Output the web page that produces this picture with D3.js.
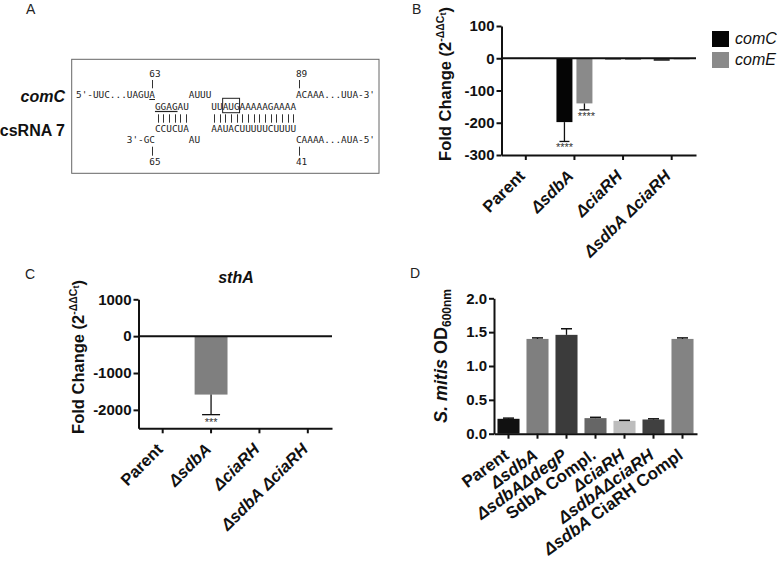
<!DOCTYPE html>
<html><head><meta charset="utf-8">
<script src="https://cdn.jsdelivr.net/npm/d3@7"></script>
<style>
body{margin:0;background:#fff;}
svg text{font-family:"Liberation Sans",Arial,sans-serif;}
.mono{font-family:"DejaVu Sans Mono",monospace;font-size:9.4px;fill:#222;}
</style></head>
<body><svg id="fig" width="777" height="569"></svg>
<script>
// ---------- DATA ----------
const catsBC = ["Parent", "ΔsdbA", "ΔciaRH", "ΔsdbA ΔciaRH"];
const seriesB = ["comC", "comE"];
const comC = [1, -198, -4, -8];
const comCErr = [0, 60, 1, 1];
const comE = [1, -140, -4, -3];
const comEErr = [0, 20, 1, 1];
const sthA = [0, -1585, 0, 0];
const sthAErr = [0, 545, 0, 0];
const catsD = ["Parent", "ΔsdbA", "ΔsdbAΔdegP", "SdbA Compl.", "ΔciaRH", "ΔsdbAΔciaRH", "ΔsdbA CiaRH Compl"];
const od600 = [0.22, 1.40, 1.46, 0.23, 0.19, 0.21, 1.40];
const od600Err = [0.01, 0.015, 0.09, 0.012, 0.007, 0.01, 0.015];
const ticksB = [100, 0, -100, -200, -300];
const ticksC = [1000, 0, -1000, -2000];
const ticksD = [0, 0.5, 1.0, 1.5, 2.0];
// Panel A sequence text
const seqTop = ["63", "89"];
const seqBottom = ["65", "41"];
const seqRow1 = ["5'-UUC...UAGUA", "AUUU", "ACAAA...UUA-3'"];
const seqRow2 = ["GGAGAU", "UUAUGAAAAAGAAAA"];
const seqPairs = ["||||||", "|||||||||||||||"];
const seqRow3 = ["CCUCUA", "AAUACUUUUUCUUUU"];
const seqRow4 = ["3'-GC", "AU", "CAAAA...AUA-5'"];

const colD = ["#111111", "#7f7f7f", "#3b3b3b", "#666666", "#bdbdbd", "#404040", "#838383"];
const colB = {comC: "#050505", comE: "#8a8a8a"};

const svg = d3.select("#fig");

function richLabel(sel, label) {
  const parts = label.split(/(Δ[a-z]+[A-Z]*)/).filter(s => s.length);
  parts.forEach(p => {
    const isGene = /^Δ[a-z]/.test(p);
    sel.append("tspan").text(p).attr("font-style", isGene ? "italic" : "normal");
  });
}
function xLabels(g, scale, labels, axisY, angle, dx, dy, fs) {
  labels.forEach(l => {
    const t = g.append("text")
      .attr("transform", `translate(${scale(l) + scale.bandwidth() / 2 + dx},${axisY + dy}) rotate(${-angle})`)
      .attr("text-anchor", "end").attr("dy", "0.35em")
      .attr("font-size", fs).attr("font-weight", "bold").attr("fill", "#111");
    richLabel(t, l);
  });
}
function styleAxis(g) {
  g.selectAll("path,line").attr("stroke", "#111").attr("stroke-width", 2);
  g.selectAll("text").attr("font-size", 15).attr("font-weight", "bold").attr("fill", "#111");
}
function panelLabel(t, x, y) {
  svg.append("text").attr("x", x).attr("y", y).attr("font-size", 14).attr("fill", "#222").text(t);
}
const plain = d => String(d);

// ---------- PANEL A ----------
panelLabel("A", 26, 13.5);
const colX = d3.scaleLinear().domain([0, 1]).range([76, 81.64]);
const gA = svg.append("g");
gA.append("rect").attr("x", 71.7).attr("y", 59.3).attr("width", 307.3).attr("height", 114)
  .attr("fill", "none").attr("stroke", "#666").attr("stroke-width", 1);
function mono(txt, col, y) {
  gA.append("text").attr("class", "mono").attr("x", colX(col)).attr("y", y).text(txt);
}
function bars(str, col, y1, y2) {
  for (let k = 0; k < str.length; k++) {
    const x = Math.round(colX(col + k + 0.5)) + 0.5;
    gA.append("line").attr("x1", x).attr("x2", x).attr("y1", y1).attr("y2", y2).attr("stroke", "#333").attr("stroke-width", 1);
  }
}
mono(seqTop[0], 13, 77); mono(seqTop[1], 39, 77);
bars("|", 13, 80, 88.3); bars("|", 39, 80, 88.3);
mono(seqRow1[0], 0, 98); mono(seqRow1[1], 20, 98); mono(seqRow1[2], 39, 98);
mono(seqRow2[0], 14, 110); mono(seqRow2[1], 24, 110);
bars(seqPairs[0], 14, 114.3, 122.7); bars(seqPairs[1], 24, 114.3, 122.7);
mono(seqRow3[0], 14, 131.7); mono(seqRow3[1], 24, 131.7);
mono(seqRow4[0], 9, 142.7); mono(seqRow4[1], 20, 142.7); mono(seqRow4[2], 39, 142.7);
bars("|", 13, 146.7, 155.7); bars("|", 39, 146.7, 155.7);
mono(seqBottom[0], 13, 165); mono(seqBottom[1], 39, 165);
gA.append("line").attr("x1", colX(13)).attr("x2", colX(14)).attr("y1", 99.5).attr("y2", 99.5).attr("stroke", "#222");
gA.append("line").attr("x1", colX(14)).attr("x2", colX(18)).attr("y1", 111.5).attr("y2", 111.5).attr("stroke", "#222").attr("stroke-width", 1.2);
gA.append("rect").attr("x", colX(26)).attr("y", 98.3).attr("width", colX(29) - colX(26)).attr("height", 14.4)
  .attr("fill", "none").attr("stroke", "#222").attr("stroke-width", 1);
gA.append("text").attr("x", 65).attr("y", 101.7).attr("text-anchor", "end").attr("font-size", 16)
  .attr("font-weight", "bold").attr("font-style", "italic").attr("fill", "#111").text("comC");
gA.append("text").attr("x", 65).attr("y", 135.7).attr("text-anchor", "end").attr("font-size", 16)
  .attr("font-weight", "bold").attr("fill", "#111").text("csRNA 7");

// ---------- PANEL B ----------
panelLabel("B", 412, 13.5);
const gB = svg.append("g");
const xB = d3.scaleBand().domain(catsBC).range([501.5, 696]).paddingInner(0.26).paddingOuter(0.13);
const xB1 = d3.scaleBand().domain(seriesB).range([0, xB.bandwidth()]).paddingInner(0.2);
const yB = d3.scaleLinear().domain([-300, 100]).range([155, 26]);
const dataB = catsBC.flatMap((c, i) => [
  {c, s: "comC", v: comC[i], e: comCErr[i]},
  {c, s: "comE", v: comE[i], e: comEErr[i]}]);
gB.selectAll("rect.bar").data(dataB).join("rect").attr("class", "bar")
  .attr("x", d => xB(d.c) + xB1(d.s)).attr("width", xB1.bandwidth())
  .attr("y", d => yB(Math.max(0, d.v))).attr("height", d => Math.abs(yB(d.v) - yB(0)))
  .attr("fill", d => d.v > -20 ? "#333" : colB[d.s]);
dataB.filter(d => d.e > 5).forEach(d => {
  const cx = xB(d.c) + xB1(d.s) + xB1.bandwidth() / 2;
  gB.append("line").attr("x1", cx).attr("x2", cx).attr("y1", yB(d.v)).attr("y2", yB(d.v - d.e)).attr("stroke", "#111").attr("stroke-width", 1.3);
  gB.append("line").attr("x1", cx - 5).attr("x2", cx + 5).attr("y1", yB(d.v - d.e)).attr("y2", yB(d.v - d.e)).attr("stroke", "#111").attr("stroke-width", 1.3);
});
(function(){
  const cC = xB("ΔsdbA") + xB1("comC") + xB1.bandwidth() / 2;
  const cE = xB("ΔsdbA") + xB1("comE") + xB1.bandwidth() / 2;
  gB.append("text").attr("x", cC).attr("y", yB(comC[1] - comCErr[1]) + 10).attr("text-anchor", "middle")
    .attr("font-size", 11).attr("fill", "#333").text("****");
  gB.append("text").attr("x", cE + 2).attr("y", yB(comE[1] - comEErr[1]) + 10).attr("text-anchor", "middle")
    .attr("font-size", 11).attr("fill", "#333").text("****");
})();
gB.append("line").attr("x1", 501.5).attr("x2", 696).attr("y1", yB(0)).attr("y2", yB(0)).attr("stroke", "#111").attr("stroke-width", 2);
const axYB = gB.append("g").attr("transform", "translate(501.5,0)")
  .call(d3.axisLeft(yB).tickValues(ticksB).tickFormat(plain).tickSize(5).tickSizeOuter(0).tickPadding(2));
styleAxis(axYB);
const axXB = gB.append("g").attr("transform", "translate(0,155)")
  .call(d3.axisBottom(xB).tickSize(5).tickSizeOuter(0).tickFormat(""));
styleAxis(axXB);
xLabels(gB, xB, catsBC, 155, 45, -4, 18, 16.5);
function foldTitle(g, x, y) {
  const t = g.append("text").attr("transform", `translate(${x},${y}) rotate(-90)`).attr("text-anchor", "middle")
    .attr("font-size", 16.5).attr("font-weight", "bold").attr("fill", "#111");
  t.append("tspan").text("Fold Change (2");
  t.append("tspan").attr("font-size", 10.5).attr("dy", -7).text("-ΔΔC");
  t.append("tspan").attr("font-size", 9).attr("dy", 2).text("t");
  t.append("tspan").attr("dy", 5).text(")");
}
foldTitle(gB, 451, 84);
seriesB.forEach((s, i) => {
  gB.append("rect").attr("x", 712).attr("y", 31 + i * 21).attr("width", 17).attr("height", 16).attr("fill", colB[s]);
  gB.append("text").attr("x", 735).attr("y", 44 + i * 20.5).attr("font-size", 16).attr("font-style", "italic").attr("fill", "#111").text(s);
});

// ---------- PANEL C ----------
panelLabel("C", 25, 279);
const gC = svg.append("g");
const xC = d3.scaleBand().domain(catsBC).range([138.5, 332]).paddingInner(0.32).paddingOuter(0.16);
const yC = d3.scaleLinear().domain([-2500, 1000]).range([428.3, 299.3]);
gC.selectAll("rect.bar").data(catsBC.map((c, i) => ({c, v: sthA[i], e: sthAErr[i]}))).join("rect")
  .attr("class", "bar").attr("x", d => xC(d.c)).attr("width", xC.bandwidth())
  .attr("y", d => yC(Math.max(0, d.v))).attr("height", d => Math.abs(yC(d.v) - yC(0)))
  .attr("fill", "#7f7f7f");
catsBC.forEach((c, i) => {
  if (sthAErr[i] <= 0) return;
  const cx = xC(c) + xC.bandwidth() / 2;
  gC.append("line").attr("x1", cx).attr("x2", cx).attr("y1", yC(sthA[i])).attr("y2", yC(sthA[i] - sthAErr[i])).attr("stroke", "#111").attr("stroke-width", 1.3);
  gC.append("line").attr("x1", cx - 9).attr("x2", cx + 9).attr("y1", yC(sthA[i] - sthAErr[i])).attr("y2", yC(sthA[i] - sthAErr[i])).attr("stroke", "#111").attr("stroke-width", 1.3);
  gC.append("text").attr("x", cx).attr("y", yC(sthA[i] - sthAErr[i]) + 11).attr("text-anchor", "middle")
    .attr("font-size", 11).attr("fill", "#333").text("***");
});
gC.append("line").attr("x1", 138.5).attr("x2", 332).attr("y1", yC(0)).attr("y2", yC(0)).attr("stroke", "#111").attr("stroke-width", 2);
const axYC = gC.append("g").attr("transform", "translate(138.5,0)")
  .call(d3.axisLeft(yC).tickValues(ticksC).tickFormat(plain).tickSize(5).tickSizeOuter(0).tickPadding(2));
styleAxis(axYC);
const axXC = gC.append("g").attr("transform", "translate(0,428.3)")
  .call(d3.axisBottom(xC).tickSize(5).tickSizeOuter(0).tickFormat(""));
styleAxis(axXC);
xLabels(gC, xC, catsBC, 428.3, 45, -3, 18, 16.5);
foldTitle(gC, 83.5, 357);
gC.append("text").attr("x", 236).attr("y", 282.5).attr("text-anchor", "middle").attr("font-size", 16)
  .attr("font-weight", "bold").attr("font-style", "italic").attr("fill", "#111").text("sthA");

// ---------- PANEL D ----------
panelLabel("D", 410, 278);
const gD = svg.append("g");
const xD = d3.scaleBand().domain(catsD).range([494, 697]).paddingInner(0.24).paddingOuter(0.12);
const yD = d3.scaleLinear().domain([0, 2]).range([433.7, 298.3]);
gD.selectAll("rect.bar").data(catsD.map((c, i) => ({c, v: od600[i], e: od600Err[i], i}))).join("rect")
  .attr("class", "bar").attr("x", d => xD(d.c)).attr("width", xD.bandwidth())
  .attr("y", d => yD(d.v)).attr("height", d => yD(0) - yD(d.v)).attr("fill", d => colD[d.i]);
catsD.forEach((c, i) => {
  const cx = xD(c) + xD.bandwidth() / 2;
  gD.append("line").attr("x1", cx).attr("x2", cx).attr("y1", yD(od600[i])).attr("y2", yD(od600[i] + od600Err[i])).attr("stroke", "#111").attr("stroke-width", 1.3);
  gD.append("line").attr("x1", cx - 5.5).attr("x2", cx + 5.5).attr("y1", yD(od600[i] + od600Err[i])).attr("y2", yD(od600[i] + od600Err[i])).attr("stroke", "#111").attr("stroke-width", 1.5);
});
const axYD = gD.append("g").attr("transform", "translate(494,0)")
  .call(d3.axisLeft(yD).tickValues(ticksD).tickFormat(d3.format(".1f")).tickSize(5).tickSizeOuter(0).tickPadding(2));
styleAxis(axYD);
const axXD = gD.append("g").attr("transform", "translate(0,433.7)")
  .call(d3.axisBottom(xD).tickSize(5).tickSizeOuter(0).tickFormat(""));
styleAxis(axXD);
xLabels(gD, xD, catsD, 433.7, 36, -2, 19, 17);
(function(){
  const t = gD.append("text").attr("transform", "translate(446.5,356) rotate(-90)").attr("text-anchor", "middle")
    .attr("font-size", 18).attr("font-weight", "bold").attr("fill", "#111");
  t.append("tspan").attr("font-style", "italic").text("S. mitis");
  t.append("tspan").text(" OD");
  t.append("tspan").attr("font-size", 12).attr("dy", 4).text("600nm");
})();
</script></body></html>
